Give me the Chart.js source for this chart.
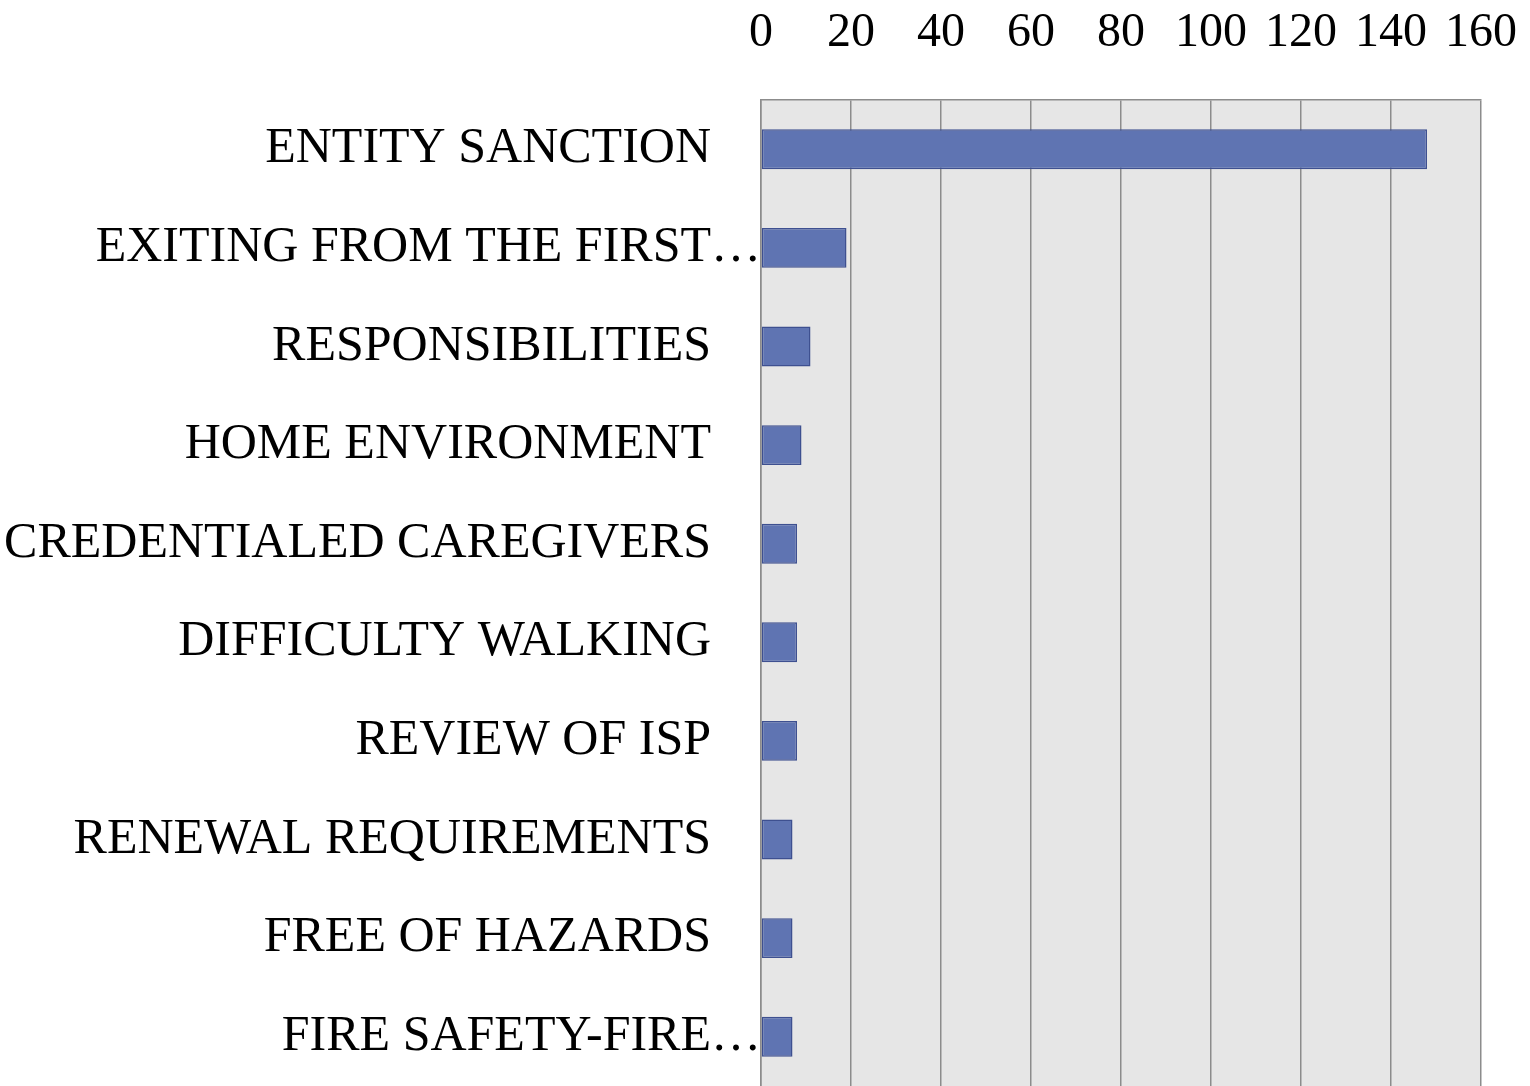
<!DOCTYPE html>
<html>
<head>
<meta charset="utf-8">
<script src="https://cdn.jsdelivr.net/npm/chart.js@4/dist/chart.umd.min.js"></script>
<style>
html,body{margin:0;padding:0;background:#fff;overflow:hidden;}
#wrap{width:1530px;height:1086px;position:relative;}
</style>
</head>
<body>
<div id="wrap"><canvas id="c"></canvas></div>
<script>
const categories = [
  "ENTITY SANCTION",
  "EXITING FROM THE FIRST…",
  "RESPONSIBILITIES",
  "HOME ENVIRONMENT",
  "CREDENTIALED CAREGIVERS",
  "DIFFICULTY WALKING",
  "REVIEW OF ISP",
  "RENEWAL REQUIREMENTS",
  "FREE OF HAZARDS",
  "FIRE SAFETY-FIRE…"
];
const counts = [148, 19, 11, 9, 8, 8, 8, 7, 7, 7];
const xMin = 0, xMax = 160, xStep = 20;

const plotBg = {
  id: 'plotBg',
  beforeDraw(chart) {
    const {ctx, chartArea: a} = chart;
    ctx.save();
    ctx.fillStyle = '#e6e6e6';
    ctx.fillRect(a.left, a.top, a.right - a.left, a.bottom - a.top);
    ctx.restore();
  }
};

new Chart(document.getElementById('c'), {
  type: 'bar',
  data: {
    labels: categories,
    datasets: [{
      data: counts,
      backgroundColor: '#5f74b2',
      borderColor: '#3e5090',
      borderWidth: 1.5,
      borderSkipped: false,
      categoryPercentage: 1,
      barPercentage: 0.405
    }]
  },
  options: {
    indexAxis: 'y',
    responsive: true,
    maintainAspectRatio: false,
    animation: false,
    layout: { padding: { left: 0, right: 49, top: 0, bottom: 0 } },
    plugins: { legend: { display: false }, tooltip: { enabled: false } },
    scales: {
      x: {
        position: 'top',
        min: xMin, max: xMax,
        ticks: {
          stepSize: xStep,
          color: '#000',
          padding: 38,
          font: { family: '"Liberation Serif", serif', size: 48 }
        },
        grid: { color: '#8c8c8c', lineWidth: 1.5, drawTicks: false },
        border: { display: true, color: '#8c8c8c', width: 1.5 },
        afterFit(s) { s.height = 100; s.paddingLeft = 0; s.paddingRight = 0; }
      },
      y: {
        ticks: {
          color: '#000',
          padding: 0,
          autoSkip: false,
          font: { family: '"Liberation Serif", serif', size: 50 },
          callback(v, i) {
            const t = categories[i];
            return t.endsWith('…') ? t : t + '\u2003';
          }
        },
        grid: { display: false, drawTicks: false },
        border: { display: true, color: '#8c8c8c', width: 1.5 },
        afterFit(s) { s.width = 761; s.paddingTop = 0; s.paddingBottom = 0; }
      }
    }
  },
  plugins: [plotBg]
});
</script>
</body>
</html>
